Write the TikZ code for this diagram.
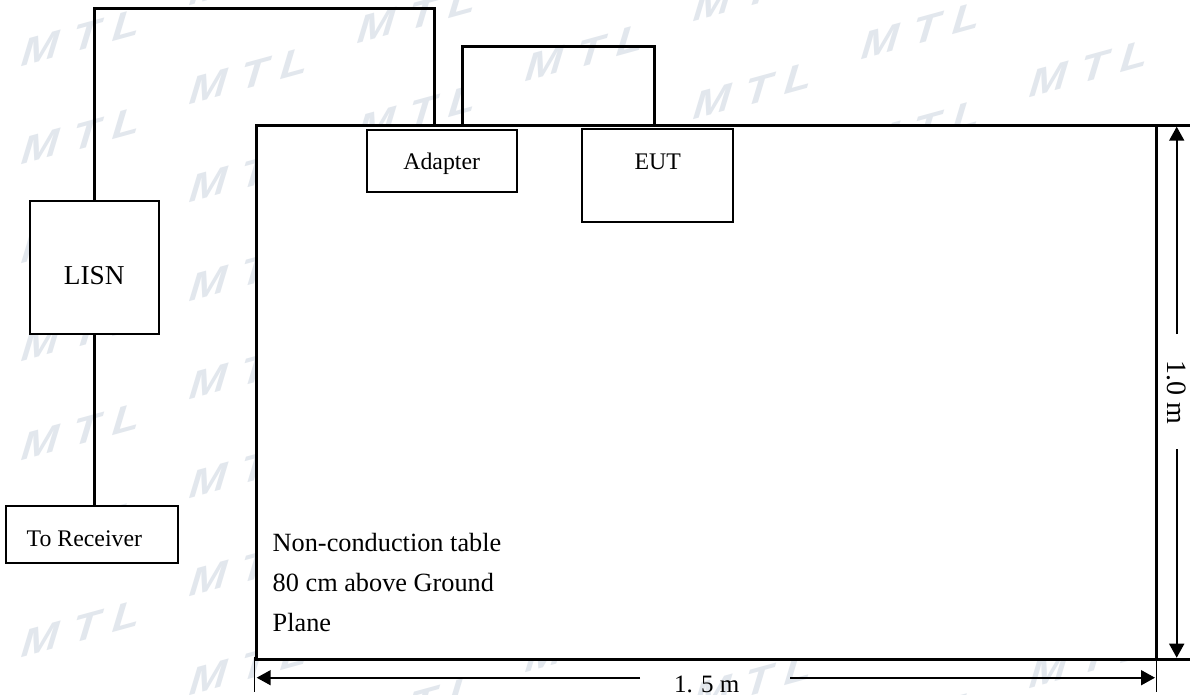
\documentclass[tikz,border=0pt]{standalone}
\usepackage{fontspec}
\setmainfont{Liberation Serif}
\newfontfamily\wmfont{Liberation Sans}
\usetikzlibrary{arrows.meta}
\definecolor{wmcol}{RGB}{226,231,237}
\begin{document}
\begin{tikzpicture}[x=1pt,y=-1pt,
  wire/.style={line width=3pt},
  boxnode/.style={draw, line width=2pt, fill=white, inner sep=0pt, outer sep=0pt},
  tablenode/.style={draw, line width=3pt, fill=white, inner sep=0pt, outer sep=0pt},
  dimline/.style={line width=1.7pt, -{Triangle[length=14pt,width=15pt]}},
  extline/.style={line width=1.5pt},
  lbl/.style={inner sep=0pt, font=\fontsize{23.8}{28}\selectfont},
  big/.style={inner sep=0pt, font=\fontsize{26.3}{30}\selectfont},
  wm/.style={text=wmcol, inner sep=0pt, xslant=0.3, yslant=0.3, font=\wmfont\bfseries\fontsize{41}{41}\selectfont}
]
\useasboundingbox (0,0) rectangle (1190,695);
\fill[white] (0,0) rectangle (1190,695);
% watermark
\begin{scope}
\clip (0,0) rectangle (1190,695);
\foreach \k in {0,...,6}{
  \foreach \m in {-4,...,7}{
    \node[wm] (wm-\k-\m) at ({82+168*\k},{37+38*\k+98.5*\m}) {M\kern12pt T\kern12pt L};
  }
}
\end{scope}
% table
\node[tablenode, minimum width=900.7pt, minimum height=533pt] (table) at (706.35,392.5) {};
\coordinate (tr) at (1190,126);
\coordinate (br) at (1190,659);
\draw[wire] (table.north east) -- (tr);
\draw[wire] (table.south east) -- (br);
% boxes
\node[boxnode, minimum width=129pt, minimum height=133pt] (lisn) at (94.5,267.5) {};
\node[boxnode, minimum width=150pt, minimum height=61.7pt] (adapter) at (441.7,160.85) {};
\node[boxnode, minimum width=150.7pt, minimum height=92.4pt] (eut) at (657.35,175.5) {};
\node[boxnode, minimum width=171.7pt, minimum height=56.7pt] (rx) at (91.85,534.35) {};
% labels
\node[inner sep=0pt, font=\fontsize{27.3}{30}\selectfont, anchor=base] (lisnT) at (94.3,284) {LISN};
\node[lbl, anchor=base] (adapterT) at (441.7,169.3) {Adapter};
\node[lbl, anchor=base] (eutT) at (657.7,169.3) {EUT};
\node[lbl, anchor=base west] (rxT) at (26.5,546.7) {To Receiver};
\node[big, anchor=base west] (t1) at (272.5,551.7) {Non-conduction table};
\node[big, anchor=base west] (t2) at (272.5,591.2) {80 cm above Ground};
\node[big, anchor=base west] (t3) at (272.5,631.2) {Plane};
% wires
\coordinate (w1) at (94.5,8.3);
\coordinate (w2) at (434,8.3);
\draw[wire] (lisn.north) -- (w1) -- (w2) -- (w2 |- table.north);
\coordinate (e1) at (462.7,46.7);
\coordinate (e2) at (654.3,46.7);
\draw[wire] (e1 |- table.north) -- (e1) -- (e2) -- (e2 |- table.north);
\draw[wire] (lisn.south) -- (lisn.south |- rx.north);
% vertical dimension
\coordinate (vt) at (1176.7,126.7);
\coordinate (vb) at (1176.7,657.7);
\coordinate (v1) at (1176.7,334);
\coordinate (v2) at (1176.7,449);
\node[inner sep=0pt, font=\fontsize{28}{31}\selectfont, rotate=-90] (dimv) at (1176.7,392) {1.0 m};
\draw[dimline] (v1) -- (vt);
\draw[dimline] (v2) -- (vb);
% horizontal dimension
\coordinate (xl1) at (254.3,656.7);
\coordinate (xl2) at (254.3,691.7);
\coordinate (xr2) at (1156.7,691.7);
\draw[extline] (xl1) -- (xl2);
\draw[extline] (table.south east) -- (xr2);
\coordinate (hl) at (256.7,677.7);
\coordinate (hr) at (1155,677.7);
\coordinate (h1) at (640,677.7);
\coordinate (h2) at (790,677.7);
\node[inner sep=0pt, font=\fontsize{25}{28}\selectfont, anchor=base] (dimh) at (706.7,692) {1. 5 m};
\draw[dimline] (h1) -- (hl);
\draw[dimline] (h2) -- (hr);
\end{tikzpicture}
\end{document}
